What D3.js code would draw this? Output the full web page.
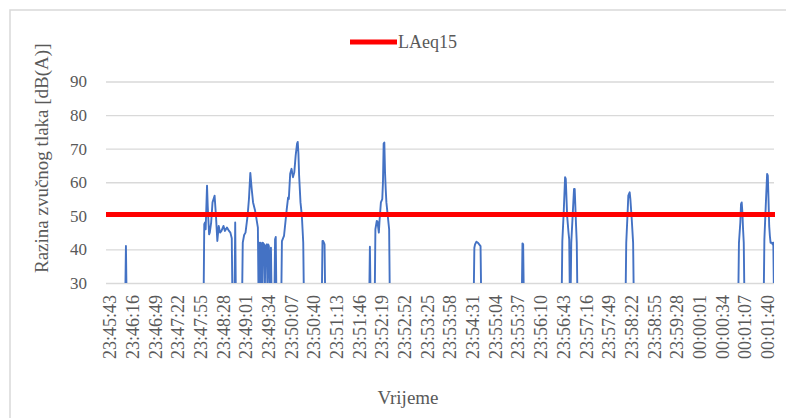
<!DOCTYPE html>
<html>
<head>
<meta charset="utf-8">
<script src="https://cdn.jsdelivr.net/npm/d3@7/dist/d3.min.js"></script>
<style>
  html, body { margin: 0; padding: 0; background: #ffffff; }
  svg { display: block; }
  svg text { font-family: "Liberation Serif", "DejaVu Serif", serif; }
</style>
</head>
<body>
<div id="chart"></div>
<script>
// ---- data (seconds from 23:45:43, sound level in dB(A)); 25 = below axis range ----
const secondsFromStart = [
  0, 23, 24, 25,
  137, 138, 139, 140, 142, 143, 145, 146, 148, 150, 153, 154, 155, 157, 159, 161, 163, 166, 168, 171, 174, 176, 178, 179,
  182, 183, 184,
  193, 194, 196, 198, 201, 203, 205, 207, 209, 212, 214, 216, 217,
  218, 219, 220, 221, 222, 223, 225, 226, 227, 229, 230, 231, 232, 234, 235, 236,
  240, 241, 242, 243,
  250, 251, 254, 256, 258, 260, 261, 263, 265, 267, 269, 271, 273, 274, 275, 276, 278, 280, 281, 282, 283,
  309, 310, 311, 312, 313, 314,
  378, 379, 380,
  386, 387, 389, 390, 392, 393, 395, 397, 398, 399, 400, 401, 402, 403, 405, 407, 408,
  530, 531, 532, 534, 536, 538, 540, 541,
  600, 601, 602, 603,
  658, 659, 661, 663, 664, 666, 668, 669, 670, 671, 672, 674, 676, 677, 679, 680, 681,
  751, 752, 754, 755, 757, 758, 760, 762, 763,
  915, 916, 918, 919, 920, 921, 922, 923, 924,
  952, 953, 955, 957, 958, 959, 960, 961, 962, 964, 965, 966, 967
];
const levelDb = [
  25, 25, 41, 25,
  25, 47.5, 48, 46, 59, 53, 44.5, 45, 48, 54, 56, 53, 50, 42.5, 47, 45, 45.5, 47, 45.5, 46.5, 45.5, 45, 43.3, 25,
  25, 48, 25,
  25, 42, 44.3, 45, 50, 55, 62.8, 58, 54, 51.5, 49, 46.5, 25,
  42, 25, 42, 41.5, 25, 42, 41.5, 25, 41, 41.5, 25, 41.5, 41, 25, 40.5, 25,
  25, 43, 43.7, 25,
  25, 42.5, 44, 48, 52, 55.5, 55, 62.5, 64, 61.5, 63, 68, 71.5, 72, 68.5, 62, 54, 50, 46, 42, 25,
  25, 42.5, 42.5, 42, 41.5, 25,
  25, 40.8, 25,
  25, 46, 48.5, 48.3, 45, 48.5, 54, 55, 60, 71.5, 71.8, 63, 58, 54, 50, 46, 25,
  25, 40.5, 41.5, 42.3, 42, 41.5, 41, 25,
  25, 41.8, 41.5, 25,
  25, 42.5, 51, 61.5, 61, 50, 45, 43, 25, 25, 42, 50, 58, 58, 47, 42, 25,
  25, 42, 51, 56, 57, 55, 49, 42, 25,
  25, 42, 48, 53.5, 54, 51, 46, 42, 25,
  25, 43, 53, 62.5, 62, 55, 47, 44, 42, 42, 41.5, 42, 25
];
const laeq15 = 50.4;
const tickLabels = [
  "23:45:43","23:46:16","23:46:49","23:47:22","23:47:55","23:48:28","23:49:01","23:49:34",
  "23:50:07","23:50:40","23:51:13","23:51:46","23:52:19","23:52:52","23:53:25","23:53:58",
  "23:54:31","23:55:04","23:55:37","23:56:10","23:56:43","23:57:16","23:57:49","23:58:22",
  "23:58:55","23:59:28","00:00:01","00:00:34","00:01:07","00:01:40"
];
const tickStep = 33;
const yTicks = [30, 40, 50, 60, 70, 80, 90];
const legendLabel = "LAeq15";
const yTitle = "Razina zvučnog tlaka [dB(A)]";
const xTitle = "Vrijeme";

// ---- layout ----
const W = 786, H = 418;
const plot = { left: 106, right: 774, top: 81.5, bottom: 283 };
const textColor = "#595959";
const gridColor = "#d9d9d9";
const serif = "Liberation Serif, DejaVu Serif, serif";

const svg = d3.select("#chart").append("svg").attr("width", W).attr("height", H)
  .attr("font-family", serif);

// outer chart frame
svg.append("rect").attr("x", 10).attr("y", 10).attr("width", 800).attr("height", 430)
  .attr("fill", "none").attr("stroke", gridColor).attr("stroke-width", 1.5);

const x = d3.scaleLinear().domain([-5, 967]).range([plot.left, plot.right]);
const y = d3.scaleLinear().domain([30, 90]).range([plot.bottom, plot.top]);

// y axis with gridlines
const yAxis = svg.append("g").attr("transform", `translate(${plot.left},0)`)
  .call(d3.axisLeft(y).tickValues(yTicks).tickSize(-(plot.right - plot.left)).tickPadding(19));
yAxis.attr("font-family", serif).attr("font-size", 17);
yAxis.select(".domain").remove();
yAxis.selectAll(".tick line").attr("stroke", gridColor).attr("stroke-width", 1.3);
yAxis.selectAll(".tick text").attr("fill", textColor);

// x axis
const tickSeconds = tickLabels.map((_, i) => i * tickStep);
const xAxis = svg.append("g").attr("transform", `translate(0,${plot.bottom})`)
  .call(d3.axisBottom(x).tickValues(tickSeconds).tickFormat((d, i) => tickLabels[i]).tickSize(0));
xAxis.attr("font-family", serif).attr("font-size", 18);
xAxis.select(".domain").remove();
xAxis.selectAll(".tick text")
  .attr("transform", "rotate(-90)")
  .attr("x", -12).attr("y", 0).attr("dy", "0.35em")
  .attr("text-anchor", "end")
  .attr("fill", textColor);

// clip
svg.append("clipPath").attr("id", "plotclip").append("rect")
  .attr("x", plot.left).attr("y", plot.top - 5)
  .attr("width", plot.right - plot.left).attr("height", plot.bottom - plot.top + 5);

// blue series
const pts = secondsFromStart.map((s, i) => [s, levelDb[i]]);
svg.append("path").datum(pts)
  .attr("clip-path", "url(#plotclip)")
  .attr("fill", "none").attr("stroke", "#4472C4").attr("stroke-width", 1.9)
  .attr("stroke-linejoin", "round")
  .attr("d", d3.line().x(d => x(d[0])).y(d => y(d[1])));

// LAeq15 line
svg.append("line")
  .attr("x1", plot.left).attr("x2", plot.right + 1)
  .attr("y1", y(laeq15)).attr("y2", y(laeq15))
  .attr("stroke", "#ff0000").attr("stroke-width", 5);

// legend
svg.append("line").attr("x1", 350).attr("x2", 397).attr("y1", 42).attr("y2", 42)
  .attr("stroke", "#ff0000").attr("stroke-width", 5);
svg.append("text").attr("x", 398).attr("y", 48).text(legendLabel)
  .attr("fill", textColor).attr("font-size", 18);

// axis titles
svg.append("text")
  .attr("transform", `translate(48,${(plot.top + plot.bottom) / 2 - 24}) rotate(-90)`)
  .attr("text-anchor", "middle").text(yTitle)
  .attr("fill", textColor).attr("font-size", 19);
svg.append("text").attr("x", 408).attr("y", 404).attr("text-anchor", "middle").text(xTitle)
  .attr("fill", textColor).attr("font-size", 19);
</script>
</body>
</html>
